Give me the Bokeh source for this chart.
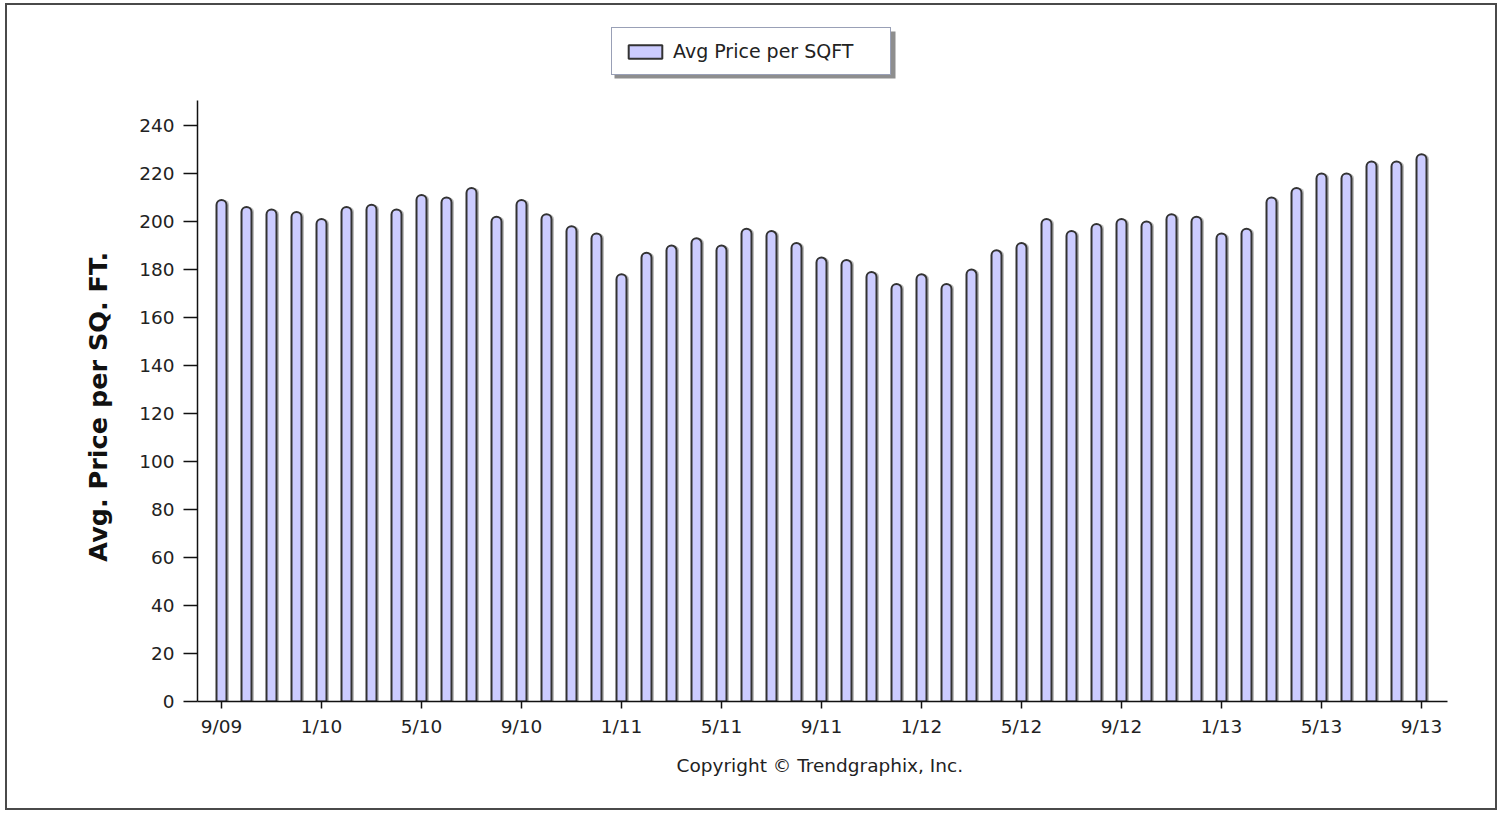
from bokeh.plotting import figure
from bokeh.models import (ColumnDataSource, Range1d, FixedTicker, Legend, LegendItem,
                          Title, BoxAnnotation)
from bokeh.transform import dodge
from bokeh.embed import file_html
from bokeh.resources import INLINE

months = ["9/09", "10/09", "11/09", "12/09", "1/10", "2/10", "3/10", "4/10", "5/10", "6/10",
          "7/10", "8/10", "9/10", "10/10", "11/10", "12/10", "1/11", "2/11", "3/11", "4/11",
          "5/11", "6/11", "7/11", "8/11", "9/11", "10/11", "11/11", "12/11", "1/12", "2/12",
          "3/12", "4/12", "5/12", "6/12", "7/12", "8/12", "9/12", "10/12", "11/12", "12/12",
          "1/13", "2/13", "3/13", "4/13", "5/13", "6/13", "7/13", "8/13", "9/13"]
price = [209, 206, 205, 204, 201, 206, 207, 205, 211, 210,
         214, 202, 209, 203, 198, 195, 178, 187, 190, 193,
         190, 197, 196, 191, 185, 184, 179, 174, 178, 174,
         180, 188, 191, 201, 196, 199, 201, 200, 203, 202,
         195, 197, 210, 214, 220, 220, 225, 225, 228]
y_ticks = list(range(0, 241, 20))

idx = list(range(len(months)))
src = ColumnDataSource(dict(x=idx, price=price, month=months))

FONT = "DejaVu Sans"

# layout geometry (pixels)
W, H = 1492, 807
ML, MR, MB = 190, 4, 111
PX_PER_X, PX_PER_Y = 25.0, 2.4
frame_w = W - ML - MR
frame_h = H - MB
x0 = -0.96
y_axis_top = 250.4

p = figure(width=W, height=H, output_backend="svg", toolbar_location=None,
           x_range=Range1d(x0, x0 + frame_w / PX_PER_X),
           y_range=Range1d(0, frame_h / PX_PER_Y),
           min_border_left=ML, min_border_right=MR, min_border_top=0, min_border_bottom=MB,
           background_fill_color="white", border_fill_color="white")
p.styles = {"border": "2px solid #4a4a4a", "margin-left": "5px", "margin-top": "3px"}
p.outline_line_color = None
p.grid.visible = False

# shadow
p.vbar(x=dodge("x", 0.09, range=p.x_range), top="price", width=0.42, source=src,
       fill_color="#000000", fill_alpha=0.25, line_color=None, border_radius=(5, 5, 0, 0))
bars = p.vbar(x="x", top="price", width=0.4, source=src, fill_color="#ccccff",
              line_color="#333333", line_width=2, border_radius=(5, 5, 0, 0))

tick_pos = [i for i in idx if i % 4 == 0]
p.xaxis.ticker = FixedTicker(ticks=tick_pos)
p.xaxis.major_label_overrides = {i: months[i] for i in tick_pos}
p.yaxis.ticker = FixedTicker(ticks=y_ticks)
p.xaxis.bounds = (x0, len(months) - 1 + 1.04)
p.yaxis.bounds = (0, y_axis_top)

for ax in (p.xaxis[0], p.yaxis[0]):
    ax.axis_line_color = "#111111"
    ax.axis_line_width = 1.5
    ax.major_tick_line_color = "#111111"
    ax.major_tick_line_width = 1.5
    ax.major_tick_in = 0
    ax.minor_tick_line_color = None
    ax.major_label_text_font = FONT
    ax.major_label_text_font_size = "18.5px"
    ax.major_label_text_color = "#222222"

p.xaxis.major_tick_out = 7
p.yaxis.major_tick_out = 14
p.xaxis.major_label_standoff = 7
p.yaxis.major_label_standoff = 9

NBSP = "\u00a0"
p.yaxis.axis_label = "Avg. Price per SQ. FT." + NBSP * 12
p.yaxis.axis_label_text_font = FONT
p.yaxis.axis_label_text_font_size = "25.5px"
p.yaxis.axis_label_text_font_style = "bold"
p.yaxis.axis_label_text_color = "#111111"
p.yaxis.axis_label_standoff = 23

cap = Title(text="Copyright \u00a9 Trendgraphix, Inc.", align="left", offset=479,
            text_font=FONT, text_font_size="18.5px", text_font_style="normal",
            text_color="#222222", standoff=27)
p.add_layout(cap, "below")

# legend (position in frame pixels from bottom-left)
LEG_X, LEG_Y = 414, 626
LEG_W, LEG_H, SH = 281, 47, 3
PAD = 12
legend = Legend(items=[LegendItem(label="Avg Price per SQFT", renderers=[bars])],
                location=(LEG_X, LEG_Y), orientation="horizontal",
                label_text_font=FONT, label_text_font_size="19px", label_text_color="#222222",
                glyph_width=42, glyph_height=17, padding=PAD, margin=0,
                label_standoff=7, label_width=LEG_W - 2 * PAD - 42 - 7 - 3,
                border_line_color="#34426e", border_line_width=1.5,
                background_fill_color="white", background_fill_alpha=1.0)
p.add_layout(legend, "center")

# legend drop shadow
p.add_layout(BoxAnnotation(left=x0 + (LEG_X + SH) / PX_PER_X,
                           right=x0 + (LEG_X + LEG_W + SH) / PX_PER_X,
                           bottom=(LEG_Y - SH) / PX_PER_Y,
                           top=(LEG_Y + LEG_H - SH) / PX_PER_Y,
                           fill_color="#7a7a7a", fill_alpha=0.85, line_color=None,
                           level="underlay", editable=False))

open("out.html", "w").write(file_html(p, INLINE))
